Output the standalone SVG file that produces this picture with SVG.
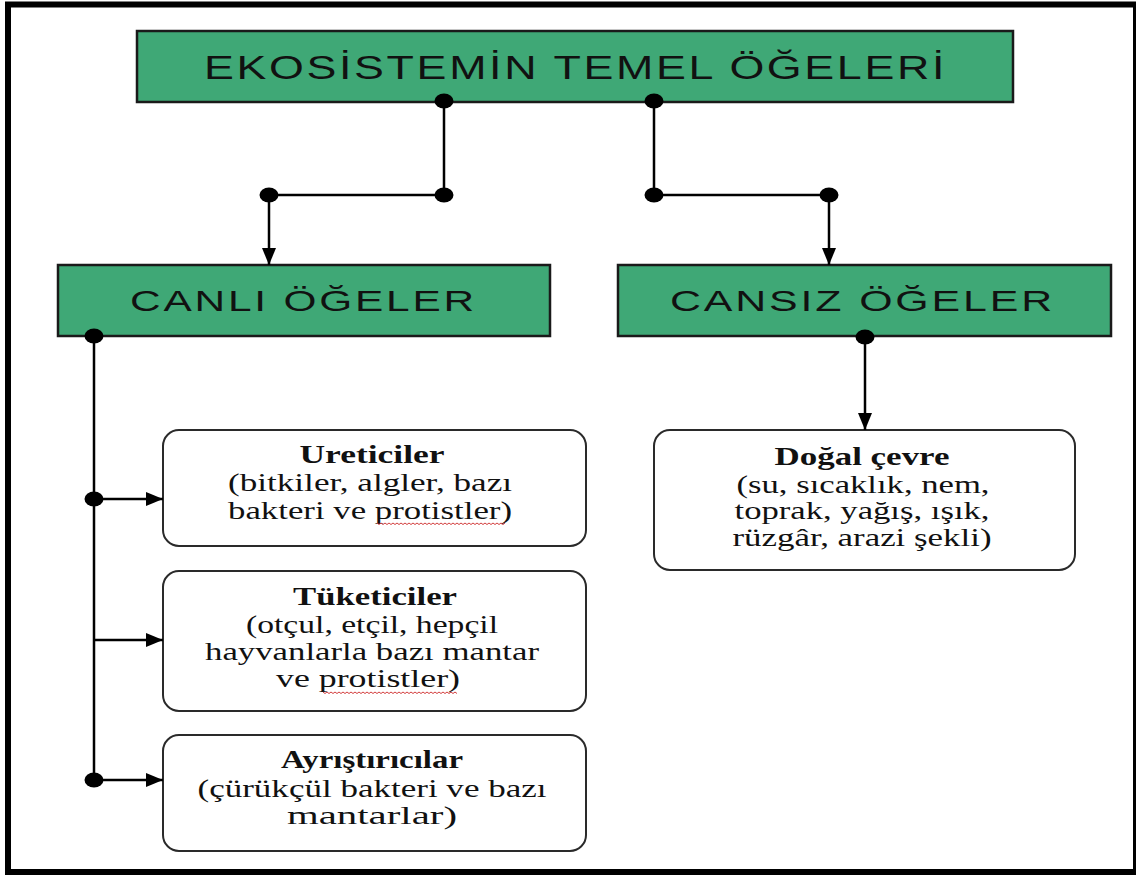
<svg xmlns="http://www.w3.org/2000/svg" width="1136" height="875" viewBox="0 0 1136 875">
<style>
.frame{fill:#fff;stroke:#000;stroke-width:6}
.gbox{fill:#3fa876;stroke:#1a1a1a;stroke-width:2.5}
.rbox{fill:#fff;stroke:#2a2a2a;stroke-width:2}
.gtxt{font-family:"Liberation Sans","DejaVu Sans",sans-serif;fill:#111}
.t{font-family:"Liberation Serif","DejaVu Serif",serif;font-size:25px;fill:#111;text-anchor:middle}
.b{font-weight:bold}
.ln{stroke:#000;stroke-width:2.5;fill:none}
.dot{fill:#000}
.sq{stroke:#d23c3c;stroke-width:1;fill:none}
</style>
<defs>
<marker id="ah" markerUnits="userSpaceOnUse" markerWidth="18" markerHeight="16" refX="17" refY="8" orient="auto">
<path d="M0,1 L17,8 L0,15 z" fill="#000"/>
</marker>
</defs>
<rect class="frame" x="8" y="4.5" width="1128" height="867.5"/>

<g id="node-title">
<rect class="gbox" x="137" y="31" width="876" height="71"/>
<text class="gtxt" x="204" y="79" font-size="34" letter-spacing="2" textLength="743" lengthAdjust="spacingAndGlyphs">EKOSİSTEMİN TEMEL ÖĞELERİ</text>
</g>

<g id="node-canli">
<rect class="gbox" x="58" y="265" width="492" height="71"/>
<text class="gtxt" x="130" y="311" font-size="30" letter-spacing="2" textLength="347" lengthAdjust="spacingAndGlyphs">CANLI ÖĞELER</text>
</g>

<g id="node-cansiz">
<rect class="gbox" x="618" y="265" width="493" height="71"/>
<text class="gtxt" x="670" y="311" font-size="30" letter-spacing="2" textLength="385" lengthAdjust="spacingAndGlyphs">CANSIZ ÖĞELER</text>
</g>

<g id="node-ureticiler">
<rect class="rbox" x="163" y="430" width="423" height="116" rx="16"/>
<text class="t b" x="372" y="463" textLength="145" lengthAdjust="spacingAndGlyphs">Ureticiler</text>
<text class="t" x="370" y="491" textLength="284" lengthAdjust="spacingAndGlyphs">(bitkiler, algler, bazı</text>
<text class="t" x="370" y="519" textLength="284" lengthAdjust="spacingAndGlyphs">bakteri ve protistler)</text>
<path class="sq" d="M377,523 l2,1.5 2,-1.5 2,1.5 2,-1.5 2,1.5 2,-1.5 2,1.5 2,-1.5 2,1.5 2,-1.5 2,1.5 2,-1.5 2,1.5 2,-1.5 2,1.5 2,-1.5 2,1.5 2,-1.5 2,1.5 2,-1.5 2,1.5 2,-1.5 2,1.5 2,-1.5 2,1.5 2,-1.5 2,1.5 2,-1.5 2,1.5 2,-1.5 2,1.5 2,-1.5 2,1.5 2,-1.5 2,1.5 2,-1.5 2,1.5 2,-1.5 2,1.5 2,-1.5 2,1.5 2,-1.5 2,1.5 2,-1.5 2,1.5 2,-1.5 2,1.5 2,-1.5 2,1.5 2,-1.5 2,1.5 2,-1.5 2,1.5 2,-1.5 2,1.5 2,-1.5 2,1.5 2,-1.5 2,1.5 2,-1.5 2,1.5 2,-1.5 2,1.5 2,-1.5"/>
</g>

<g id="node-tuketiciler">
<rect class="rbox" x="163" y="571" width="423" height="140" rx="16"/>
<text class="t b" x="375" y="605" textLength="164" lengthAdjust="spacingAndGlyphs">Tüketiciler</text>
<text class="t" x="372" y="633" textLength="252" lengthAdjust="spacingAndGlyphs">(otçul, etçil, hepçil</text>
<text class="t" x="372" y="660" textLength="334" lengthAdjust="spacingAndGlyphs">hayvanlarla bazı mantar</text>
<text class="t" x="368" y="687" textLength="184" lengthAdjust="spacingAndGlyphs">ve protistler)</text>
<path class="sq" d="M323,692 l2,1.5 2,-1.5 2,1.5 2,-1.5 2,1.5 2,-1.5 2,1.5 2,-1.5 2,1.5 2,-1.5 2,1.5 2,-1.5 2,1.5 2,-1.5 2,1.5 2,-1.5 2,1.5 2,-1.5 2,1.5 2,-1.5 2,1.5 2,-1.5 2,1.5 2,-1.5 2,1.5 2,-1.5 2,1.5 2,-1.5 2,1.5 2,-1.5 2,1.5 2,-1.5 2,1.5 2,-1.5 2,1.5 2,-1.5 2,1.5 2,-1.5 2,1.5 2,-1.5 2,1.5 2,-1.5 2,1.5 2,-1.5 2,1.5 2,-1.5 2,1.5 2,-1.5 2,1.5 2,-1.5 2,1.5 2,-1.5 2,1.5 2,-1.5 2,1.5 2,-1.5 2,1.5 2,-1.5 2,1.5 2,-1.5 2,1.5 2,-1.5 2,1.5 2,-1.5 2,1.5 2,-1.5 2,1.5"/>
</g>

<g id="node-ayristiricilar">
<rect class="rbox" x="163" y="735" width="423" height="116" rx="16"/>
<text class="t b" x="372" y="768" textLength="182" lengthAdjust="spacingAndGlyphs">Ayrıştırıcılar</text>
<text class="t" x="372" y="797" textLength="349" lengthAdjust="spacingAndGlyphs">(çürükçül bakteri ve bazı</text>
<text class="t" x="372" y="824" textLength="170" lengthAdjust="spacingAndGlyphs">mantarlar)</text>
</g>

<g id="node-dogal">
<rect class="rbox" x="654" y="430" width="421" height="140" rx="16"/>
<text class="t b" x="862" y="465" textLength="175" lengthAdjust="spacingAndGlyphs">Doğal çevre</text>
<text class="t" x="863" y="493" textLength="253" lengthAdjust="spacingAndGlyphs">(su, sıcaklık, nem,</text>
<text class="t" x="862" y="519" textLength="255" lengthAdjust="spacingAndGlyphs">toprak, yağış, ışık,</text>
<text class="t" x="862" y="546" textLength="259" lengthAdjust="spacingAndGlyphs">rüzgâr, arazi şekli)</text>
</g>

<g id="connectors">
<path class="ln" d="M444,101 V195 H269"/>
<path class="ln" d="M269,195 V265" marker-end="url(#ah)"/>
<path class="ln" d="M654,101 V195 H829"/>
<path class="ln" d="M829,195 V265" marker-end="url(#ah)"/>
<path class="ln" d="M94,336 V780"/>
<path class="ln" d="M94,499 H163" marker-end="url(#ah)"/>
<path class="ln" d="M94,640 H163" marker-end="url(#ah)"/>
<path class="ln" d="M94,780 H163" marker-end="url(#ah)"/>
<path class="ln" d="M865,337 V430" marker-end="url(#ah)"/>
<ellipse class="dot" cx="444" cy="101" rx="9.5" ry="7.5"/>
<ellipse class="dot" cx="654" cy="101" rx="9.5" ry="7.5"/>
<ellipse class="dot" cx="269" cy="195" rx="9.5" ry="7.5"/>
<ellipse class="dot" cx="444" cy="195" rx="9.5" ry="7.5"/>
<ellipse class="dot" cx="654" cy="195" rx="9.5" ry="7.5"/>
<ellipse class="dot" cx="829" cy="195" rx="9.5" ry="7.5"/>
<ellipse class="dot" cx="94" cy="336" rx="9.5" ry="7.5"/>
<ellipse class="dot" cx="94" cy="499" rx="9.5" ry="7.5"/>
<ellipse class="dot" cx="94" cy="780" rx="9.5" ry="7.5"/>
<ellipse class="dot" cx="865" cy="337" rx="9.5" ry="7.5"/>
</g>
</svg>
